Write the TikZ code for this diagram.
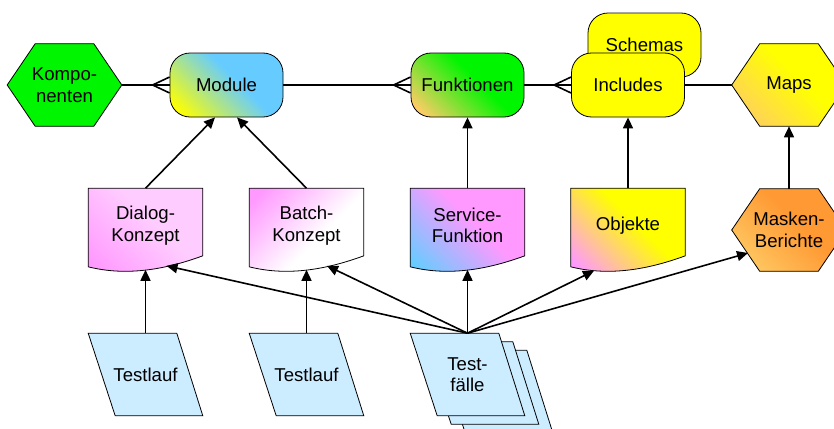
\documentclass[tikz,border=0pt]{standalone}
\usepackage{fontspec}
\setmainfont{Liberation Sans}
\usetikzlibrary{arrows.meta, positioning, backgrounds, decorations.markings}

\definecolor{kgreen}{RGB}{0,245,0}
\definecolor{skyblue}{RGB}{102,204,255}
\definecolor{lightorange}{RGB}{255,204,102}
\definecolor{deeporange}{RGB}{255,153,51}
\definecolor{docpink}{RGB}{255,153,255}
\definecolor{palepink}{RGB}{255,204,255}
\definecolor{yell}{RGB}{255,255,0}
\definecolor{paleblue}{RGB}{204,236,255}

\colorlet{cfrom}{white}
\colorlet{cto}{white}
\pgfdeclareverticalshading[cfrom,cto]{cornershade}{100bp}{color(0bp)=(cfrom); color(20bp)=(cfrom);
  color(38bp)=(cfrom!50!cto); color(56bp)=(cto); color(100bp)=(cto)}

\begin{document}
\begin{tikzpicture}[->,>={Triangle[length=5.5pt,width=5pt]}, thick, on grid,
    box/.style={rectangle, inner sep=0pt, minimum width=56.5pt, align=center,
      font=\fontsize{9.3pt}{10.8pt}\selectfont},
    hexbox/.style={box, minimum height=40.5pt},
    docbox/.style={box, minimum height=36.5pt},
    slantbox/.style={box, minimum height=40.5pt},
    roundbox/.style={box, draw, thin, rounded corners=10pt, minimum height=32pt},
    outline/.style={draw, thin},
    hexpath/.style={insert path={(#1.west) -- ([xshift=14pt]#1.north west)
      -- ([xshift=-14pt]#1.north east) -- (#1.east) -- ([xshift=-14pt]#1.south east)
      -- ([xshift=14pt]#1.south west) -- cycle}},
    docpath/.style={insert path={(#1.north west) -- ([yshift=-2pt]#1.south west)
      .. controls ([shift={(19.8pt,-7pt)}]#1.south west) and ([shift={(39.6pt,-3pt)}]#1.south west)
      .. ([yshift=3.5pt]#1.south east) -- (#1.north east) -- cycle}},
    slantpath/.style={insert path={(#1.north west) -- ([xshift=13.5pt]#1.south west)
      -- (#1.south east) -- ([xshift=-13pt]#1.north east) -- cycle}},
    cornerfade/.style n args={3}{/utils/exec={\colorlet{cfrom}{#1}\colorlet{cto}{#2}},
      shade, shading=cornershade, shading angle=#3},
    crow/.style={postaction={decorate, decoration={markings, mark=at position 1 with
      {\draw[-, thick] (-8.5pt,0) -- (0,4pt) (-8.5pt,0) -- (0,-4pt);}}}}]

    \useasboundingbox (0,0) rectangle (417pt,-214pt);

    % top row
    \node[hexbox]   (kmp) at (32.25pt,-42.5pt) {Kompo-\\nenten};
    \node[roundbox, cornerfade={yell}{skyblue}{-45}] (mod) [right=81pt of kmp] {Module};
    \node[roundbox, cornerfade={lightorange}{kgreen}{-45}] (fkt) [right=120.5pt of mod] {Funktionen};
    \node[roundbox, fill=yell] (sch) [above right=20pt and 88.5pt of fkt] {Schemas};
    \node[roundbox, fill=yell] (inc) [right=80.25pt of fkt] {Includes};
    \node[hexbox]   (map) [right=80.5pt of inc] {Maps};

    % middle row
    \node[docbox]   (dlg) [below left=70.25pt and 40.5pt of mod] {Dialog-\\Konzept};
    \node[docbox]   (bat) [right=80.5pt of dlg] {Batch-\\Konzept};
    \node[docbox]   (svc) [below=70.25pt of fkt] {Service-\\Funktion};
    \node[docbox]   (obj) [below=70.25pt of inc] {Objekte};
    \node[hexbox]   (msk) [below=72.5pt of map] {Masken-\\Berichte};

    % bottom row
    \node[slantbox] (tl1) [below=74.5pt of dlg] {Testlauf};
    \node[slantbox] (tl2) [below=74.5pt of bat] {Testlauf};
    \node[slantbox] (tf)  [below=74.5pt of svc] {Test-\\fälle};
    \node[slantbox] (tf2) [below right=4.25pt and 7pt of tf] {};
    \node[slantbox] (tf3) [below right=8.5pt and 14pt of tf] {};

    \begin{scope}[on background layer]
    \path[outline, fill=kgreen] [hexpath=kmp];
    \path[outline, cornerfade={lightorange}{yell}{-45}] [hexpath=map];
    \path[outline, cornerfade={lightorange}{deeporange}{-45}] [hexpath=msk];
    \path[outline, cornerfade={docpink}{palepink}{-45}] [docpath=dlg];
    \path[outline, cornerfade={docpink}{white}{-135}] [docpath=bat];
    \path[outline, cornerfade={skyblue}{docpink}{-45}] [docpath=svc];
    \path[outline, cornerfade={docpink}{yell}{-45}] [docpath=obj];
    \path[outline, fill=paleblue] [slantpath=tl1];
    \path[outline, fill=paleblue] [slantpath=tl2];
    \path[outline, fill=paleblue] [slantpath=tf3];
    \path[outline, fill=paleblue] [slantpath=tf2];
    \path[outline, fill=paleblue] [slantpath=tf];
    \end{scope}

    \path (kmp) edge[-, crow] (mod)
          (mod) edge[-, crow] (fkt)
          (fkt) edge[-, crow] (inc)
          (inc) edge[-]       (map);

    \path (dlg.north) edge ([xshift=-5.75pt]mod.south)
          (bat.north) edge ([xshift=5.25pt]mod.south)
          (svc.north) edge (fkt.south)
          (obj.north) edge (inc.south)
          (msk.north) edge (map.south)
          (tl1.north) edge ([yshift=-3.5pt]dlg.south)
          (tl2.north) edge ([yshift=-3.5pt]bat.south)
          (tf.north)  edge ([shift={(10.5pt,-1.5pt)}]dlg.south)
                      edge ([shift={(10.25pt,-1.5pt)}]bat.south)
                      edge ([yshift=-3.5pt]svc.south)
                      edge ([shift={(-17pt,-4pt)}]obj.south)
                      edge ([shift={(-20.5pt,-11.5pt)}]msk.center);
\end{tikzpicture}
\end{document}
